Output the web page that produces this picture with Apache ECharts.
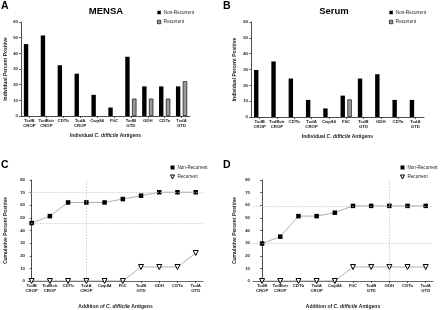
<!DOCTYPE html>
<html><head><meta charset="utf-8">
<script src="https://cdn.jsdelivr.net/npm/echarts@6/dist/echarts.min.js"></script>
<style>html,body{margin:0;padding:0;background:#fff}#c{width:440px;height:310px}</style>
</head><body><div id="c"></div>
<script>
const antigens = ['TcdB\nCROP','TcdBvir\nCROP','CDTb','TcdA\nCROP','Cwp84','FliC','TcdB\nGTD','GDH','CDTa','TcdA\nGTD'];
const mensaNonRec = [45.9,51.4,32.4,27.0,13.5,5.4,37.8,18.9,18.9,18.9];
const mensaRec    = [0,0,0,0,0,0,11.1,11.1,11.1,22.2];
const serumNonRec = [29.7,35.1,24.3,10.8,5.4,13.5,24.3,27.0,10.8,10.8];
const serumRec    = [0,0,0,0,0,11.1,0,0,0,0];
const cumMensaNonRec = [45.9,51.4,62.2,62.2,62.2,64.9,67.6,70.3,70.3,70.3];
const cumMensaRec    = [0,0,0,0,0,0,11.1,11.1,11.1,22.2];
const cumSerumNonRec = [29.7,35.1,51.4,51.4,54.1,59.5,59.5,59.5,59.5,59.5];
const cumSerumRec    = [0,0,0,0,0,11.1,11.1,11.1,11.1,11.1];
const refMensaH = [70.3,45.9], refMensaV = 3;
const refSerumH = [59.5,29.7], refSerumV = 7;
const legendNames = ['Non-Recurrent','Recurrent'];

const FONT = 'Liberation Sans, Arial, sans-serif';
const idx = antigens.map((_, i) => i);
const pairs = arr => arr.map((v, i) => [i, v]);
const hideZero = arr => arr.map(v => v === 0 ? '-' : v);

const chart = echarts.init(document.getElementById('c'), null, {renderer:'canvas'});

const axisLine = {show:true, lineStyle:{color:'#222', width:0.8}};
const tick = {show:true, length:2, lineStyle:{color:'#222', width:0.7}};
const tickLbl = {fontSize:4.3, color:'#222', fontFamily:FONT, fontWeight:'bold', lineHeight:5, margin:2};
const nameStyle = {fontSize:5, fontWeight:'bold', color:'#222', fontFamily:FONT,
  rich:{i:{fontSize:5, fontStyle:'italic', fontWeight:'bold', color:'#222', fontFamily:FONT}}};

const grids = [
  {left:21, top:22, width:169, height:94},
  {left:251, top:22, width:173, height:95},
  {left:28, top:180, width:175, height:102},
  {left:253, top:180, width:180, height:102}
];

function catX(g, name, gap){
  return {type:'category', gridIndex:g, data:antigens, axisLine, axisTick:{...tick, alignWithLabel:true},
    axisLabel:{...tickLbl, interval:0}, name, nameLocation:'middle', nameGap:gap, nameTextStyle:nameStyle};
}
function valX(g, min, max, name, gap){
  return {type:'value', gridIndex:g, min, max, axisLine:{show:true, lineStyle:{color:'#444', width:0.8}},
    splitLine:{show:false},
    axisTick:{...tick, customValues:idx}, axisLabel:{...tickLbl, customValues:idx, formatter:v => antigens[Math.round(v)]},
    name, nameLocation:'middle', nameGap:gap, nameTextStyle:nameStyle};
}
function valY(g, max, name, gap){
  return {type:'value', gridIndex:g, min:0, max, interval:10, axisLine, axisTick:tick,
    splitLine:{show:false}, axisLabel:{...tickLbl, margin:3},
    name, nameLocation:'middle', nameGap:gap, nameRotate:90, nameTextStyle:nameStyle};
}

const nonRecBar = {color:'#000'};
const recBar = {color:'#999', borderColor:'#111', borderWidth:0.7};
function bars(g, non, rec){
  return [
    {type:'bar', name:legendNames[0], xAxisIndex:g, yAxisIndex:g, data:hideZero(non), barWidth:4.4, barGap:'55%', itemStyle:nonRecBar},
    {type:'bar', name:legendNames[1], xAxisIndex:g, yAxisIndex:g, data:hideZero(rec), barWidth:4.4, barGap:'55%', itemStyle:recBar}
  ];
}
function lines(g, non, rec, refH, refV){
  return [
    {type:'line', name:legendNames[0], xAxisIndex:g, yAxisIndex:g, data:pairs(non), symbol:'rect', symbolSize:4.5,
      lineStyle:{color:'#999', width:0.8}, itemStyle:{color:'#000'}, z:3,
      markLine:{silent:true, symbol:'none', label:{show:false}, lineStyle:{color:'#bbb', type:[1.5,1.5], width:0.7},
        data:[...refH.map(v => ({yAxis:v})), {xAxis:refV}]}},
    {type:'line', name:legendNames[1], xAxisIndex:g, yAxisIndex:g, data:pairs(rec), symbol:'triangle', symbolRotate:180, symbolSize:5,
      showAllSymbol:true, lineStyle:{color:'#999', width:0.8}, itemStyle:{color:'#fff', borderColor:'#000', borderWidth:1}, z:4}
  ];
}
function legend(left, top, kind){
  const tri = 'path://M0,0L10,0L5,10Z';
  return {left, top, orient:'vertical', itemWidth:kind==='bar'?3.5:4, itemHeight:kind==='bar'?3.5:4, itemGap:4.5, padding:0,
    selectedMode:false, textStyle:{fontSize:4.6, color:'#222', fontFamily:FONT, padding:[0,0,0,-2]},
    data: kind==='bar' ? [
      {name:legendNames[0], icon:'rect', itemStyle:{color:'#000'}},
      {name:legendNames[1], icon:'rect', itemStyle:{color:'#999', borderColor:'#111', borderWidth:0.7}}
    ] : [
      {name:legendNames[0], icon:'rect', itemStyle:{color:'#000'}},
      {name:legendNames[1], icon:tri, itemStyle:{color:'#fff', borderColor:'#000', borderWidth:1}}
    ]};
}
function txt(x, y, text, size, align){
  return {type:'text', x, y, style:{text, font:'bold '+size+'px '+FONT, fill:'#000', textAlign:align||'left', textVerticalAlign:'middle'}};
}

chart.setOption({
  animation:false,
  grid:grids,
  xAxis:[
    catX(0, 'Individual {i|C. difficile} Antigens', 17),
    catX(1, 'Individual {i|C. difficile} Antigens', 17),
    valX(2, -0.2, 9.4, 'Addition of {i|C. difficile} Antigens', 23),
    valX(3, -0.5, 9.4, 'Addition of {i|C. difficile} Antigens', 23)
  ],
  yAxis:[
    valY(0, 60, 'Individual Percent Positive', 13),
    valY(1, 60, 'Individual Percent Positive', 14),
    valY(2, 80, 'Cumulative Percent Positive', 20),
    valY(3, 80, 'Cumulative Percent Positive', 16)
  ],
  legend:[legend(157, 10, 'bar'), legend(389, 10, 'bar'), legend(170, 165, 'line'), legend(400, 165, 'line')],
  series:[
    ...bars(0, mensaNonRec, mensaRec),
    ...bars(1, serumNonRec, serumRec),
    ...lines(2, cumMensaNonRec, cumMensaRec, refMensaH, refMensaV),
    ...lines(3, cumSerumNonRec, cumSerumRec, refSerumH, refSerumV)
  ],
  graphic:[
    txt(1, 6, 'A', 10.5), txt(223, 6, 'B', 10.5), txt(1, 165, 'C', 10.5), txt(223, 165, 'D', 10.5),
    txt(106, 11, 'MENSA', 9.5, 'center'), txt(334, 11, 'Serum', 9.5, 'center')
  ]
});
</script></body></html>
